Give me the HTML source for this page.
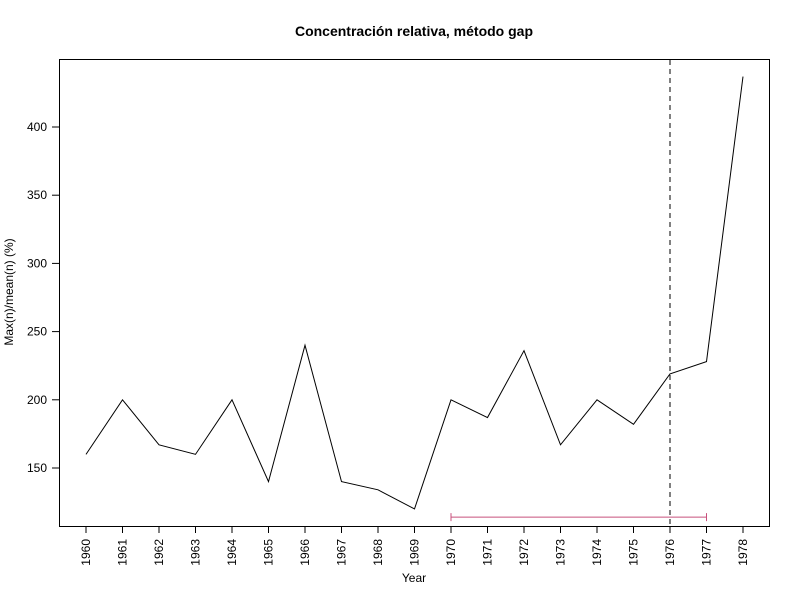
<!DOCTYPE html>
<html><head><meta charset="utf-8"><style>body{margin:0;background:#fff}svg{display:block;font-family:"Liberation Sans",Arial,sans-serif}</style></head>
<body>
<svg id="chart" width="800" height="600" xmlns="http://www.w3.org/2000/svg">
<rect width="800" height="600" fill="#fff"/>
<text x="414" y="36" text-anchor="middle" font-size="14" font-weight="bold">Concentración relativa, método gap</text>
<rect x="59.5" y="59.5" width="710" height="467" fill="none" stroke="#000"/>
<text x="414" y="582" text-anchor="middle" font-size="12">Year</text>
<text transform="translate(13,292) rotate(-90)" text-anchor="middle" font-size="12">Max(n)/mean(n) (%)</text>
<g id="axes"></g>
<g id="marks"></g>
</svg>
<script>
const years=[1960,1961,1962,1963,1964,1965,1966,1967,1968,1969,1970,1971,1972,1973,1974,1975,1976,1977,1978];
const values=[160,200,167,160,200,140,240,140,134,120,200,187,236,167,200,182,219,228,437];
const yTicks=[150,200,250,300,350,400];
const cutYear=1976;
const rangeStart=1970, rangeEnd=1977, rangeLevel=114;
const NS="http://www.w3.org/2000/svg";
const xs=y=>86+(y-1960)*(743-86)/18;
const ys=v=>468-(v-150)*(468-127)/250;
const ax=document.getElementById('axes'), mk=document.getElementById('marks');
function el(t,a,p){const e=document.createElementNS(NS,t);for(const k in a)e.setAttribute(k,a[k]);p.appendChild(e);return e;}
years.forEach(y=>{
 const x=xs(y);
 const t=el('line',{x1:x,x2:x,y1:526,y2:533,stroke:'#000'},ax);
 
 
 const l=el('text',{transform:`translate(${x+4},${539}) rotate(-90)`,'text-anchor':'end','font-size':12},ax);
 
 
 l.textContent=y;
});
yTicks.forEach(v=>{
 const y=ys(v);
 const t=el('line',{x1:52,x2:59,y1:y,y2:y,stroke:'#000'},ax);
 
 
 const l=el('text',{x:47,y:y+4,'text-anchor':'end','font-size':12},ax);
 
 
 l.textContent=v;
});
const pl=el('polyline',{points:years.map((y,i)=>xs(y)+','+ys(values[i])).join(' '),fill:'none',stroke:'#000','stroke-width':1},mk);


const vx=xs(cutYear);
const vl=el('line',{x1:vx,x2:vx,y1:60,y2:526,stroke:'#000','stroke-dasharray':'5,4'},mk);


const ry=ys(rangeLevel), c='#c8507c';
const rg=el('g',{stroke:c},mk);


el('line',{x1:xs(rangeStart),x2:xs(rangeEnd),y1:ry,y2:ry},rg);
el('line',{x1:xs(rangeStart),x2:xs(rangeStart),y1:ry-4,y2:ry+4},rg);
el('line',{x1:xs(rangeEnd),x2:xs(rangeEnd),y1:ry-4,y2:ry+4},rg);
</script>
</body></html>
